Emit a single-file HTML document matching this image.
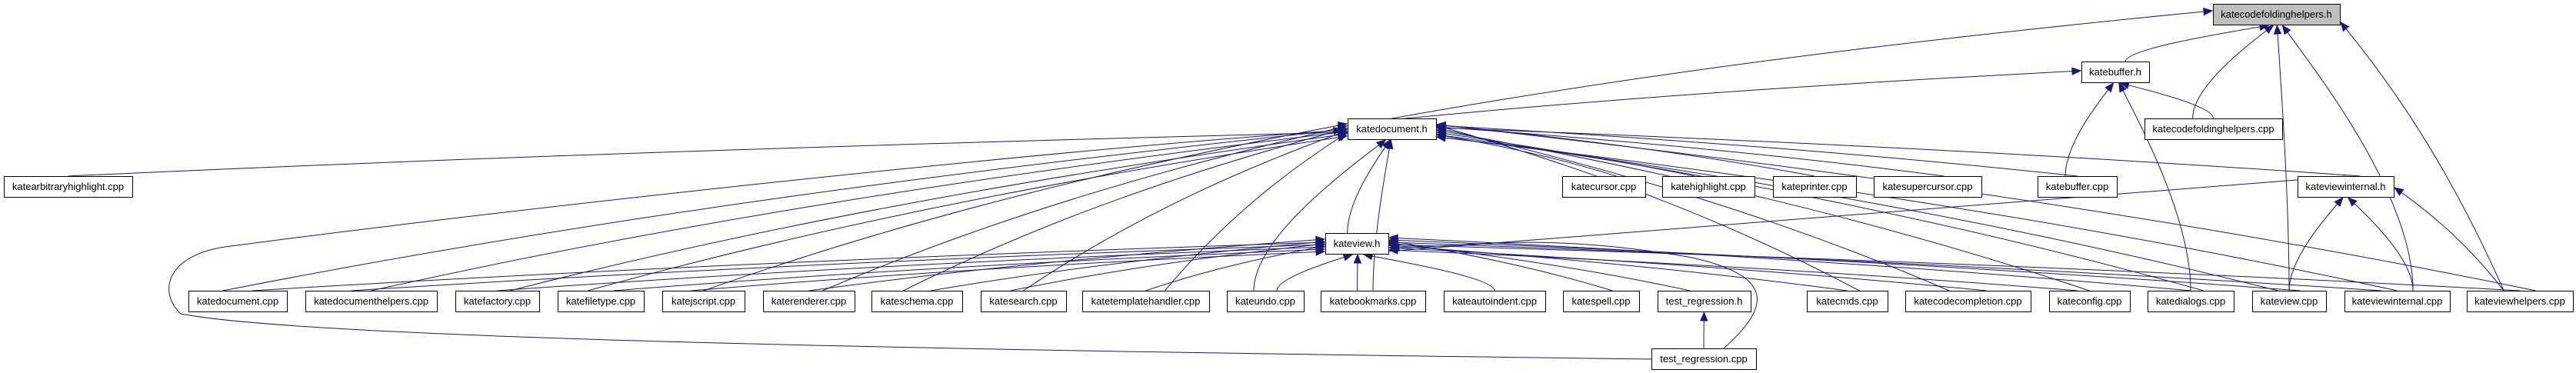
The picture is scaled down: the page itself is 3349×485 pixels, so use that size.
<!DOCTYPE html>
<html><head><meta charset="utf-8"><style>
html,body{margin:0;padding:0;background:#fff;width:3349px;height:485px;overflow:hidden}
svg text{font-family:"Liberation Sans",sans-serif;font-size:13px;fill:#000}
</style></head><body>
<svg id="g" width="3349" height="485" xmlns="http://www.w3.org/2000/svg"></svg>
<script>
var N={
top:[2877,5,3042,32,"katecodefoldinghelpers.h",1],
kbh:[2706,80,2794,107,"katebuffer.h"],
kdh:[1752,154,1867,181,"katedocument.h"],
kcfc:[2788,154,2967,181,"katecodefoldinghelpers.cpp"],
kah:[5,229,172,256,"katearbitraryhighlight.cpp"],
kcur:[2031,229,2139,256,"katecursor.cpp"],
khl:[2161,229,2281,256,"katehighlight.cpp"],
kpr:[2305,229,2413,256,"kateprinter.cpp"],
ksc:[2436,229,2576,256,"katesupercursor.cpp"],
kbc:[2649,229,2752,256,"katebuffer.cpp"],
kvih:[2987,229,3112,256,"kateviewinternal.h"],
kvh:[1723,303,1805,330,"kateview.h"],
b1:[245,378,373,405,"katedocument.cpp"],
b2:[397,378,568,405,"katedocumenthelpers.cpp"],
b3:[592,378,701,405,"katefactory.cpp"],
b4:[725,378,837,405,"katefiletype.cpp"],
b5:[861,378,968,405,"katejscript.cpp"],
b6:[992,378,1111,405,"katerenderer.cpp"],
b7:[1133,378,1251,405,"kateschema.cpp"],
b8:[1275,378,1386,405,"katesearch.cpp"],
b9:[1407,378,1572,405,"katetemplatehandler.cpp"],
b10:[1595,378,1695,405,"kateundo.cpp"],
b11:[1717,378,1853,405,"katebookmarks.cpp"],
b12:[1877,378,2009,405,"kateautoindent.cpp"],
b13:[2032,378,2131,405,"katespell.cpp"],
trh:[2155,378,2276,405,"test_regression.h"],
b14:[2349,378,2454,405,"katecmds.cpp"],
b15:[2477,378,2640,405,"katecodecompletion.cpp"],
b16:[2664,378,2769,405,"kateconfig.cpp"],
b17:[2792,378,2904,405,"katedialogs.cpp"],
b18:[2928,378,3024,405,"kateview.cpp"],
b19:[3048,378,3185,405,"kateviewinternal.cpp"],
b20:[3207,378,3345,405,"kateviewhelpers.cpp"],
trc:[2147,453,2283,480,"test_regression.cpp"]
};
var E=[["kdh","top"],["kbh","top"],["kcfc","top"],["kcfc","kbh"],["kdh","kbh"],["kbc","kbh"],["kbc","kdh"],
["b18","top"],["b19","top"],["b20","top"],["b17","kbh"],
["b18","kvih"],["b19","kvih"],["b20","kvih"],["kvih","kdh"],["kvih","kvh"],["kvh","kdh"],
["kah","kdh"],["kcur","kdh"],["khl","kdh"],["kpr","kdh"],["ksc","kdh"],["trc","trh"]];
["b1","b2","b3","b4","b5","b6","b7","b8","b9","b10","b11","b14","b15","b16","b17","b18","b19","b20"].forEach(function(k){E.push([k,"kdh"]);});
["b1","b2","b3","b4","b5","b6","b7","b8","b9","b10","b11","b12","b13","trh","b14","b15","b16","b17","b18","b19","b20"].forEach(function(k){E.push([k,"kvh"]);});
var s="",C="#191970",cnt={};
function arrow(x,y,px,py){var dx=x-px,dy=y-py,l=Math.sqrt(dx*dx+dy*dy)||1;dx/=l;dy/=l;
var bx=x-dx*11,by=y-dy*11,nx=-dy*4.5,ny=dx*4.5;
return '<polygon points="'+x+','+y+' '+(bx+nx)+','+(by+ny)+' '+(bx-nx)+','+(by-ny)+'" fill="'+C+'" stroke="'+C+'"/>';}
E.forEach(function(e){var a=N[e[0]],b=N[e[1]];
var acx=(a[0]+a[2])/2,bcx=(b[0]+b[2])/2,sx,sy,ex,ey,c1x,c1y,c2x,c2y,side=false;
cnt[e[1]]=(cnt[e[1]]||0)+1;var k=cnt[e[1]];
if(a[1]>=b[3]-2){
 sy=a[1];sx=acx+(a[2]-a[0])*0.15*((k%3)-1);
 if(acx<b[0]-150){ex=b[0]-1;ey=b[1]+6+(k*3)%(b[3]-b[1]-8);side=true;}
 else if(acx>b[2]+150){ex=b[2]+1;ey=b[1]+6+(k*3)%(b[3]-b[1]-8);side=true;}
 else {ey=b[3]+1;ex=Math.max(b[0]+5,Math.min(b[2]-5,bcx+(acx-bcx)*0.05));}
 if(side){c1x=sx+(ex-sx)*0.33;c1y=sy+(ey-sy)*0.45;c2x=sx+(ex-sx)*0.66;c2y=sy+(ey-sy)*0.75;}
 else{c1x=sx;c1y=sy-(sy-ey)*0.35;c2x=ex+(sx-ex)*0.3;c2y=ey+(sy-ey)*0.2;}
}else{sx=acx;sy=a[1];ex=bcx;ey=b[3];c1x=sx;c1y=sy;c2x=ex;c2y=ey;}
s+='<path d="M'+sx+','+sy+' C'+c1x+','+c1y+' '+c2x+','+c2y+' '+ex+','+ey+'" fill="none" stroke="'+C+'" stroke-width="1"/>';
s+=arrow(ex,ey,c2x,c2y);});
s+='<path d="M2147,467 C1200,455 400,440 235,408 C205,380 215,330 300,320 C600,280 1300,200 1734,170" fill="none" stroke="'+C+'"/>'+arrow(1745,169,1734,170);
s+='<path d="M2241,453 C2300,400 2310,360 2200,335 C2000,300 1900,322 1820,322" fill="none" stroke="'+C+'"/>'+arrow(1808,322,1820,322);
for(var n in N){var d=N[n];
s+='<rect x="'+(d[0]+0.5)+'" y="'+(d[1]+0.5)+'" width="'+(d[2]-d[0])+'" height="'+(d[3]-d[1])+'" fill="'+(d[5]?"#bfbfbf":"#fff")+'" stroke="#000" stroke-width="1"/>';
s+='<text x="'+((d[0]+d[2])/2)+'" y="'+(d[1]+18)+'" text-anchor="middle">'+d[4]+'</text>';}
document.getElementById("g").innerHTML=s;
</script>
</body></html>
